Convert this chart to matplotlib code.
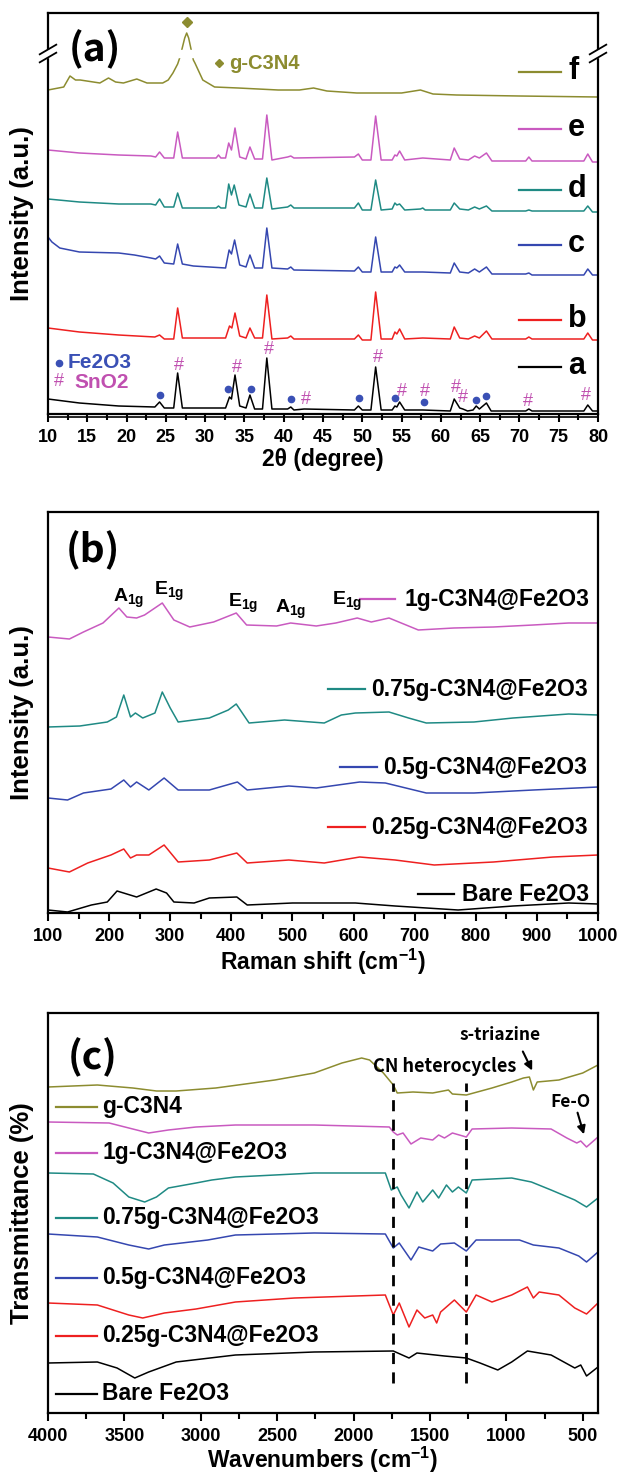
import matplotlib
matplotlib.use("Agg")
import matplotlib.pyplot as plt
from matplotlib.patches import Rectangle
from matplotlib.ticker import MultipleLocator

# ---------------- (a) XRD : (2theta, stacked intensity) ----------------
xrd_a = [(10, 15), (14, 11), (19, 8), (23.6, 7), (24.2, 12), (24.8, 6), (26.0, 6), (26.5, 41),
         (27.1, 6), (32.6, 6), (33.1, 17), (33.35, 15), (33.8, 39), (34.4, 8), (35.2, 6),
         (35.7, 19), (36.3, 5), (37.3, 5), (37.85, 56), (38.5, 5), (40.5, 5), (40.9, 7),
         (41.3, 4), (42.6, 5), (49.0, 4), (49.5, 8), (50.0, 4), (51.1, 4), (51.7, 47), (52.4, 4),
         (53.8, 4), (54.15, 8), (54.4, 7), (54.75, 12), (55.4, 4), (57.7, 4), (61.2, 3),
         (61.7, 15), (62.4, 6), (62.8, 5), (63.4, 3), (64.1, 4), (64.5, 8), (64.9, 5), (65.8, 11),
         (66.4, 3), (70.8, 3), (71.2, 5), (71.6, 3), (78.2, 3), (78.7, 9), (79.3, 3), (80, 3)]
xrd_b = [(10, 86), (14, 82), (19, 79), (23.6, 77), (24.2, 79), (24.8, 75), (26.0, 75), (26.5, 106),
         (27.1, 76), (32.6, 76), (33.1, 88), (33.4, 86), (33.8, 101), (34.4, 78), (35.2, 76),
         (35.7, 86), (36.3, 76), (37.3, 76), (37.85, 119), (38.5, 75), (40.5, 76), (40.9, 78),
         (41.3, 75), (49.0, 75), (49.5, 79), (50.0, 74), (51.1, 74), (51.7, 122), (52.4, 75),
         (53.8, 75), (54.15, 82), (54.4, 80), (54.75, 85), (55.4, 75), (57.7, 76), (61.2, 75),
         (61.7, 87), (62.4, 76), (63.5, 75), (64.3, 78), (64.9, 76), (65.8, 83), (66.5, 75),
         (70.8, 75), (71.2, 77), (71.6, 75), (78.2, 75), (78.7, 81), (79.3, 74), (80, 74)]
xrd_c = [(10, 177), (10.5, 172), (11.5, 166), (14, 162), (19, 161), (21, 159), (23.1, 156),
         (23.7, 155), (24.2, 158), (24.8, 151), (26.0, 150), (26.5, 170), (27.1, 150), (28.5, 148),
         (32.6, 146), (33.05, 164), (33.35, 160), (33.75, 174), (34.4, 149), (35.2, 147),
         (35.7, 159), (36.3, 146), (37.3, 146), (37.85, 186), (38.5, 146), (40.5, 145), (40.9, 147),
         (41.3, 144), (49.0, 143), (49.5, 147), (50.0, 142), (51.1, 142), (51.7, 177), (52.4, 142),
         (53.8, 142), (54.15, 147), (54.4, 146), (54.75, 149), (55.4, 142), (57.7, 142),
         (61.2, 141), (61.7, 151), (62.4, 142), (63.5, 141), (64.3, 145), (64.9, 142), (65.8, 147),
         (66.5, 140), (70.8, 140), (71.2, 141), (71.6, 139), (78.2, 139), (78.7, 145), (79.3, 139),
         (80, 139)]
xrd_d = [(10, 215), (14, 212), (19, 210), (23.1, 210), (23.7, 209), (24.2, 215), (24.8, 207),
         (26.0, 207), (26.5, 221), (27.1, 206), (31.4, 206), (31.7, 208), (32.0, 206), (32.6, 206),
         (33.0, 230), (33.35, 219), (33.7, 229), (34.3, 209), (35.2, 207), (35.7, 220), (36.3, 206),
         (37.3, 206), (37.85, 236), (38.5, 205), (40.5, 207), (40.9, 209), (41.3, 206), (49.0, 206),
         (49.5, 211), (50.0, 204), (51.1, 204), (51.7, 234), (52.4, 204), (53.8, 205), (54.15, 211),
         (54.4, 209), (54.75, 210), (55.4, 204), (57.4, 205), (57.7, 206), (58.0, 204), (61.2, 204),
         (61.7, 211), (62.4, 205), (63.5, 204), (64.3, 207), (64.9, 205), (65.8, 208), (66.5, 203),
         (70.8, 203), (71.2, 204), (71.6, 203), (78.2, 203), (78.7, 208), (79.3, 202), (80, 202)]
xrd_e = [(10, 264), (14, 261), (19, 259), (23.1, 258), (23.7, 257), (24.2, 262), (24.8, 256),
         (26.0, 256), (26.5, 282), (27.1, 256), (31.4, 256), (31.7, 259), (32.0, 256), (32.6, 256),
         (33.0, 271), (33.35, 264), (33.8, 286), (34.4, 257), (35.2, 255), (35.7, 267), (36.3, 255),
         (37.3, 255), (37.85, 299), (38.5, 254), (40.5, 257), (40.9, 258), (41.3, 256), (49.0, 257),
         (49.5, 260), (50.0, 254), (51.1, 254), (51.7, 298), (52.4, 254), (53.8, 254), (54.15, 259),
         (54.4, 258), (54.75, 263), (55.4, 254), (57.7, 256), (61.2, 254), (61.7, 266), (62.4, 255),
         (63.5, 254), (64.3, 258), (64.9, 256), (65.8, 261), (66.5, 253), (70.8, 253), (71.2, 257),
         (71.6, 253), (78.2, 253), (78.7, 260), (79.3, 252), (80, 252)]
xrd_f = [(10, 324), (12.0, 327), (12.8, 338), (13.5, 334), (14.1, 334), (16.6, 331), (17.7, 336),
         (18.6, 332), (19.6, 331), (21.3, 335), (22.6, 331), (24.6, 331), (25.3, 334), (25.9, 341),
         (26.5, 350), (26.8, 357), (27.4, 376), (27.65, 381), (27.9, 376), (28.5, 354), (28.7, 351),
         (29.7, 334), (31.2, 327), (34.2, 326), (39.3, 324), (42, 324), (43.8, 326), (45.5, 323),
         (49.3, 321), (55, 321), (57.4, 324), (59, 320), (62, 319), (70, 318), (80, 317)]
xrd_labels = ["a", "b", "c", "d", "e", "f"]
xrd_legend_y = [47, 94, 169, 224, 285, 342]
fe2o3_peaks = [(24.3, 19), (32.9, 25), (35.8, 25), (40.9, 15), (49.6, 16), (54.2, 16), (57.9, 12),
               (64.5, 14), (65.7, 18)]
sno2_peaks = [(26.7, 48), (34.0, 46), (38.1, 64), (42.8, 15), (52.0, 56), (55.1, 23), (58.0, 23),
              (61.9, 26), (62.8, 16), (71.1, 13), (78.5, 18)]

# ---------------- (b) Raman : (shift, stacked intensity) ----------------
raman_1g = [(100, 276), (135, 274), (158, 281), (190, 290), (216, 305), (229, 296), (245, 295),
            (258, 298), (287, 310), (306, 293), (332, 286), (371, 291), (408, 300), (425, 288),
            (474, 287), (497, 290), (539, 287), (571, 290), (606, 295), (629, 291), (658, 295),
            (706, 283), (764, 285), (829, 286), (894, 288), (952, 290), (1000, 290)]
raman_075 = [(100, 186), (152, 187), (197, 191), (212, 196), (224, 218), (235, 196), (243, 200),
             (255, 195), (275, 200), (287, 221), (300, 205), (313, 191), (364, 195), (395, 203),
             (408, 209), (429, 190), (487, 193), (552, 190), (580, 198), (603, 200), (658, 201),
             (690, 195), (719, 190), (797, 191), (861, 195), (952, 199), (1000, 198)]
raman_05 = [(100, 115), (132, 113), (158, 120), (203, 124), (224, 133), (235, 126), (245, 131),
            (265, 123), (290, 135), (313, 123), (364, 123), (410, 131), (426, 123), (494, 127),
            (539, 125), (610, 131), (652, 130), (719, 120), (797, 120), (894, 123), (1000, 126)]
raman_025 = [(100, 45), (135, 41), (165, 50), (203, 58), (224, 64), (235, 55), (245, 58), (265, 58),
             (290, 68), (313, 51), (364, 53), (409, 60), (426, 50), (494, 53), (552, 50), (610, 56),
             (668, 53), (732, 48), (829, 51), (926, 56), (1000, 58)]
raman_bare = [(100, 3), (132, 1), (171, 8), (197, 11), (213, 22), (229, 19), (245, 16), (277, 24),
              (294, 20), (306, 11), (339, 10), (364, 15), (409, 16), (426, 8), (500, 10), (603, 10),
              (668, 7), (771, 3), (861, 7), (952, 10), (1000, 9)]
sample_names = ["Bare Fe2O3", "0.25g-C3N4@Fe2O3", "0.5g-C3N4@Fe2O3", "0.75g-C3N4@Fe2O3",
                "1g-C3N4@Fe2O3"]
raman_legend_y = [19, 86, 146, 224, 314]
raman_legend_x = [(706, 764, 777), (558, 619, 629), (577, 639, 648), (558, 619, 629), (610, 668, 684)]
raman_modes = [("A", 206, 311), ("E", 274, 318), ("E", 394, 306), ("A", 471, 300), ("E", 564, 308)]

# ---------------- (c) FTIR : (wavenumber, stacked transmittance) ----------------
ftir_g = [(4000, 326), (3677, 328), (3445, 325), (3290, 322), (3161, 322), (2902, 325), (2515, 333),
          (2257, 340), (2076, 350), (1947, 355), (1895, 353), (1805, 340), (1740, 328), (1714, 320),
          (1611, 321), (1482, 320), (1379, 323), (1353, 319), (1262, 318), (1094, 325), (965, 331),
          (888, 335), (849, 336), (823, 323), (798, 331), (656, 333), (500, 340), (400, 348)]
ftir_1g = [(4000, 291), (3600, 290), (3471, 285), (3341, 280), (3212, 283), (3031, 286), (2773, 288),
           (2257, 288), (1766, 286), (1740, 281), (1714, 278), (1676, 280), (1624, 269), (1560, 275),
           (1482, 273), (1443, 278), (1405, 275), (1353, 280), (1262, 276), (1224, 284), (965, 285),
           (707, 284), (604, 275), (539, 270), (513, 272), (475, 266), (400, 276)]
ftir_075 = [(4000, 240), (3703, 239), (3574, 230), (3471, 216), (3367, 211), (3290, 216), (3212, 225),
            (3031, 230), (2928, 233), (2773, 236), (2257, 240), (1792, 240), (1753, 223), (1714, 226),
            (1689, 218), (1637, 205), (1585, 221), (1547, 211), (1482, 223), (1443, 215), (1392, 228),
            (1353, 221), (1314, 226), (1262, 220), (1224, 233), (965, 235), (836, 231), (707, 223),
            (552, 213), (475, 206), (400, 215)]
ftir_05 = [(4000, 179), (3677, 176), (3471, 168), (3341, 164), (3238, 168), (2954, 173), (2773, 178),
           (2257, 180), (1792, 179), (1740, 165), (1701, 170), (1624, 153), (1573, 166), (1482, 162),
           (1430, 169), (1340, 170), (1262, 162), (1198, 173), (914, 173), (823, 168), (656, 165),
           (526, 157), (475, 151), (400, 161)]
ftir_025 = [(4000, 110), (3677, 108), (3471, 98), (3380, 95), (3238, 100), (3031, 104), (2773, 111),
            (2386, 115), (1792, 118), (1740, 98), (1701, 110), (1637, 86), (1585, 103), (1534, 95),
            (1482, 98), (1456, 90), (1430, 101), (1340, 113), (1262, 101), (1198, 118), (1094, 111),
            (965, 118), (862, 126), (823, 115), (785, 121), (656, 118), (552, 105), (475, 99),
            (400, 110)]
ftir_bare = [(4000, 50), (3677, 51), (3548, 45), (3432, 35), (3341, 41), (3161, 51), (2773, 58),
             (2257, 61), (1740, 62), (1637, 55), (1585, 60), (1405, 57), (1262, 55), (1172, 50),
             (1056, 43), (965, 51), (862, 62), (707, 58), (552, 45), (513, 48), (475, 37), (400, 46)]
ftir_legend_y = [19, 77, 135, 195, 260, 306]
cn_bands = [1740, 1262]

colors = ["black", "#ee2020", "#3547b0", "#1f8a84", "#c95ac0", "#8c8c30"]

plt.rcParams['font.family'] = ['Liberation Sans', 'DejaVu Sans']
plt.rcParams['font.weight'] = 'bold'
plt.rcParams['mathtext.fontset'] = 'custom'
plt.rcParams['mathtext.rm'] = 'Liberation Sans:bold'
plt.rcParams['mathtext.it'] = 'Liberation Sans:bold'
plt.rcParams['mathtext.bf'] = 'Liberation Sans:bold'
plt.rcParams['mathtext.default'] = 'rm'

KR = ['Noto Sans CJK KR', 'DejaVu Sans']


def draw(ax, pairs, color, lw=1.1):
    ax.plot([p[0] for p in pairs], [p[1] for p in pairs], color=color, lw=lw)


def style(ax, xlim, major, minor, ylim):
    ax.set_xlim(*xlim)
    ax.set_ylim(*ylim)
    ax.xaxis.set_major_locator(MultipleLocator(major))
    ax.xaxis.set_minor_locator(MultipleLocator(minor))
    ax.set_yticks([])
    for s in ax.spines.values():
        s.set_linewidth(1.6)
    ax.tick_params(axis='x', which='major', direction='out', length=6, width=1.5,
                   labelsize=13, pad=5)
    ax.tick_params(axis='x', which='minor', direction='out', length=4, width=1.5)
    for t in ax.get_xticklabels():
        t.set_fontweight('bold')
    ax.yaxis.set_label_coords(-0.026, 0.5)


fig = plt.figure(figsize=(6.19, 14.75), dpi=100)
ax_a = fig.add_axes([48 / 619, 1 - 414 / 1475, 550 / 619, 401 / 1475])
ax_b = fig.add_axes([48 / 619, 1 - 913 / 1475, 550 / 619, 401 / 1475])
ax_c = fig.add_axes([48 / 619, 1 - 1413 / 1475, 550 / 619, 400 / 1475])

LAB = dict(fontsize=16.5, fontweight='bold')
YLAB = dict(fontsize=18.5, fontweight='bold')

# ---- panel (a)
for pairs, c in zip([xrd_a, xrd_b, xrd_c, xrd_d, xrd_e, xrd_f], colors):
    draw(ax_a, pairs, c)
for lab, c, yl in zip(xrd_labels, colors, xrd_legend_y):
    ax_a.plot([70.0, 75.3], [yl, yl], color=c, lw=1.6)
    ax_a.text(76.2, yl - 7, lab, fontsize=22, fontweight='bold', va='baseline', ha='left')
ax_a.plot([p[0] for p in fe2o3_peaks], [p[1] for p in fe2o3_peaks], 'o', ms=4.5, color="#3a50b5")
for x, y in sno2_peaks:
    ax_a.text(x, y, "#", color="#c050b0", fontsize=13, fontweight='normal', ha='center', va='center')
ax_a.plot([11.4], [51], 'o', ms=4.5, color="#3a50b5")
ax_a.text(12.5, 51, "Fe2O3", color="#3a50b5", fontsize=15, fontweight='bold', va='center')
ax_a.text(11.4, 32, "#", color="#c050b0", fontsize=13, fontweight='normal', ha='center', va='center')
ax_a.text(13.3, 32, "SnO2", color="#c050b0", fontsize=15, fontweight='bold', va='center')
ax_a.plot([27.7], [392], 'D', ms=5, color=colors[5])
ax_a.plot([31.8], [351], 'D', ms=4, color=colors[5])
ax_a.text(33.0, 351, "g-C3N4", color=colors[5], fontsize=14.5, fontweight='bold', va='center')
style(ax_a, (10, 80), 5, 2.5, (0, 401))
ax_a.set_xlabel("2θ (degree)", labelpad=1, **LAB)
ax_a.set_ylabel("Intensity (a.u.)", **YLAB)
ax_a.text(0.085, 0.908, "(a)", transform=ax_a.transAxes, fontsize=28, fontweight='bold',
          family=KR, ha='center', va='center', zorder=5)
# axis break
ax_a.add_patch(Rectangle((-0.02, 0.890), 1.04, 0.018, transform=ax_a.transAxes, color='white',
                         clip_on=False, zorder=2.6))
for xb in (0.0, 1.0):
    for yb in (0.889, 0.909):
        ax_a.plot([xb - 0.015, xb + 0.015], [yb - 0.012, yb + 0.012], transform=ax_a.transAxes,
                  color='black', lw=1.3, clip_on=False, zorder=3)
ax_a.plot([0, 1], [-0.008, -0.008], transform=ax_a.transAxes, color='black', lw=1.2, clip_on=False)

# ---- panel (b)
for pairs, c in zip([raman_bare, raman_025, raman_05, raman_075, raman_1g], colors):
    draw(ax_b, pairs, c)
for name, c, yl, (x0, x1, xt) in zip(sample_names, colors, raman_legend_y, raman_legend_x):
    ax_b.plot([x0, x1], [yl, yl], color=c, lw=1.6)
    ax_b.text(xt, yl - 7, name, fontsize=16.5, fontweight='bold', va='baseline', ha='left')
for sym, x, y in raman_modes:
    ax_b.text(x, y, sym + r"$_{1g}$", fontsize=14, fontweight='bold', va='baseline', ha='left')
style(ax_b, (100, 1000), 100, 50, (0, 401))
ax_b.set_xlabel(r"Raman shift (cm$^{-1}$)", labelpad=1, **LAB)
ax_b.set_ylabel("Intensity (a.u.)", **YLAB)
ax_b.text(0.082, 0.905, "(b)", transform=ax_b.transAxes, fontsize=28, fontweight='bold',
          family=KR, ha='center', va='center')

# ---- panel (c)
for pairs, c in zip([ftir_bare, ftir_025, ftir_05, ftir_075, ftir_1g, ftir_g], colors):
    draw(ax_c, pairs, c)
for name, c, yl in zip(sample_names + ["g-C3N4"], colors, ftir_legend_y):
    ax_c.plot([3948, 3677], [yl, yl], color=c, lw=1.6)
    ax_c.text(3646, yl - 6, name, fontsize=16.5, fontweight='bold', va='baseline', ha='left')
for xb in cn_bands:
    ax_c.plot([xb, xb], [30, 330], color='black', lw=2, dashes=(4, 3))
ax_c.text(1405, 346, "CN heterocycles", fontsize=13, fontweight='bold', family=KR,
          ha='center', va='center')
ax_c.text(1043, 378, "s-triazine", fontsize=12.5, fontweight='bold', family=KR,
          ha='center', va='center')
ax_c.text(578, 311, "Fe-O", fontsize=12.5, fontweight='bold', family=KR, ha='center', va='center')
arrow = dict(arrowstyle='-|>', color='black', lw=1.5, mutation_scale=12)
ax_c.annotate("", xy=(823, 340), xytext=(900, 364), arrowprops=arrow)
ax_c.annotate("", xy=(487, 276), xytext=(539, 303), arrowprops=arrow)
style(ax_c, (4000, 400), 500, 250, (0, 400))
ax_c.set_xlabel(r"Wavenumbers (cm$^{-1}$)", labelpad=0, **LAB)
ax_c.set_ylabel("Transmittance (%)", **YLAB)
ax_c.text(0.082, 0.89, "(c)", transform=ax_c.transAxes, fontsize=28, fontweight='bold',
          family=KR, ha='center', va='center')

fig.savefig("out.png", dpi=100)
